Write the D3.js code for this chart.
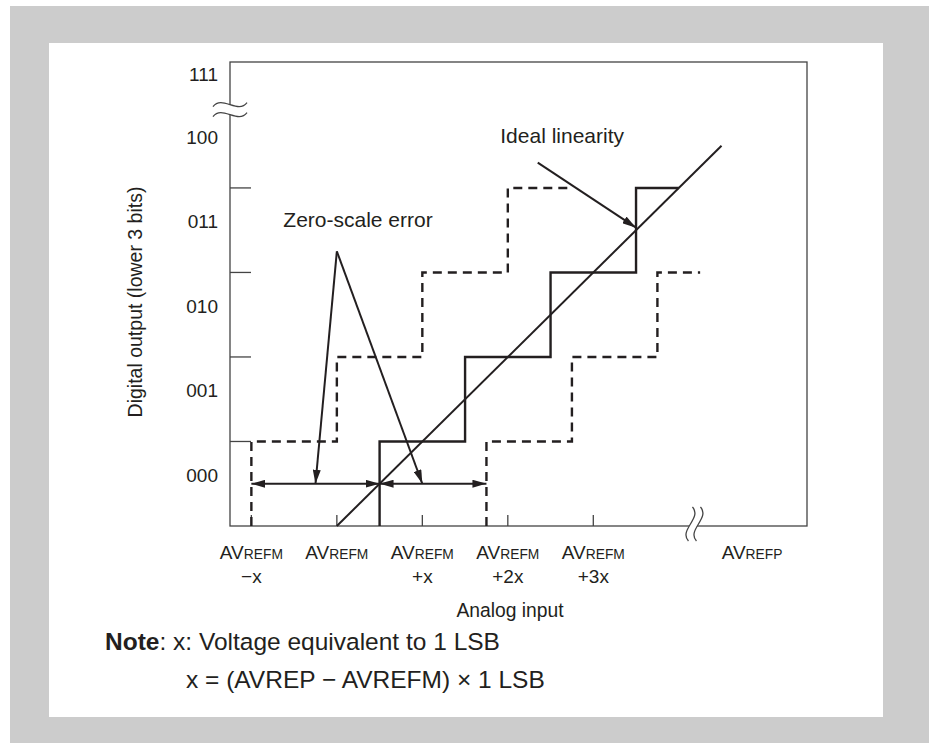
<!DOCTYPE html>
<meta charset="utf-8">
<script src="https://d3js.org/d3.v7.min.js"></script>
<style>
  body { margin: 0; background: #fff; }
  text { font-family: "Liberation Sans", Arial, Helvetica, sans-serif; fill: #231f20; }
</style>
<body>
<svg width="929" height="743"></svg>
<script>
  // ---- data (x in LSB from AVREFM, y in output code) ----
  var yTicks = [1, 2, 3, 4];
  var codeLabels = ['000', '001', '010', '011', '100'];
  var topCode = '111';
  var xTicks = [-1, 0, 1, 2, 3];
  var xSubLabels = ['\u2212x', '', '+x', '+2x', '+3x'];
  var idealStair = [[0.5,0],[0.5,1],[1.5,1],[1.5,2],[2.5,2],[2.5,3],[3.5,3],[3.5,4],[4,4]];
  var earlyStair = [[-1,0],[-1,1],[0,1],[0,2],[1,2],[1,3],[2,3],[2,4],[2.75,4]];
  var lateStair  = [[1.75,0],[1.75,1],[2.75,1],[2.75,2],[3.75,2],[3.75,3],[4.25,3]];
  var idealLine  = [[0,0],[4.5,4.5]];
  var errSpan    = [[-1,0.5],[0.5,0.5],[1.75,0.5]];   // zero-scale error arrows
  var zeroApex   = [0, 3.25], zeroTips = [[-0.25,0.5],[1,0.5]];
  var idealFrom  = [2.35, 4.3], idealTo = [3.5, 3.53];

  var svg = d3.select('svg');
  var ink = '#231f20';

  // backdrop
  svg.append('rect').attr('x', 10).attr('y', 6).attr('width', 919).attr('height', 737).attr('fill', '#cccccc');
  svg.append('rect').attr('x', 49).attr('y', 43).attr('width', 834).attr('height', 674).attr('fill', '#fff');

  var x = d3.scaleLinear().domain([-1.25, 5.5]).range([230, 807]);
  var y = d3.scaleLinear().domain([0, 5.49]).range([526, 62]);

  var defs = svg.append('defs');
  defs.append('marker').attr('id', 'head')
    .attr('viewBox', '0 0 14 8').attr('refX', 14).attr('refY', 4)
    .attr('markerWidth', 14).attr('markerHeight', 8)
    .attr('markerUnits', 'userSpaceOnUse').attr('orient', 'auto-start-reverse')
    .append('path').attr('d', 'M0,0L14,4L0,8Z').attr('fill', ink);

  var line = d3.line().x(function(d){ return x(d[0]); }).y(function(d){ return y(d[1]); });

  // frame
  svg.append('rect')
    .attr('x', x(-1.25)).attr('y', y(5.49))
    .attr('width', x(5.5) - x(-1.25)).attr('height', y(0) - y(5.49))
    .attr('fill', 'none').attr('stroke', '#444').attr('stroke-width', 1.3);

  // y ticks
  svg.selectAll('line.yt').data(yTicks).enter().append('line')
    .attr('x1', x(-1.25)).attr('x2', x(-1.25) + 21)
    .attr('y1', function(d){ return y(d); }).attr('y2', function(d){ return y(d); })
    .attr('stroke', '#444').attr('stroke-width', 1.3);

  // x ticks
  svg.selectAll('line.xt').data(xTicks).enter().append('line')
    .attr('x1', function(d){ return x(d); }).attr('x2', function(d){ return x(d); })
    .attr('y1', y(0)).attr('y2', y(0) - 11)
    .attr('stroke', '#444').attr('stroke-width', 1.3);

  // y labels
  svg.selectAll('text.code').data(codeLabels).enter().append('text')
    .attr('x', 218).attr('y', function(d, i){ return y(i + 0.5) - 2; })
    .attr('text-anchor', 'end').attr('font-size', 19)
    .text(function(d){ return d; });
  svg.append('text').attr('x', 218).attr('y', 81)
    .attr('text-anchor', 'end').attr('font-size', 19).text(topCode);

  // x labels
  var xl = svg.selectAll('g.xl').data(xTicks).enter().append('g')
    .attr('transform', function(d){ return 'translate(' + x(d) + ',0)'; });
  var main = xl.append('text').attr('y', 559).attr('text-anchor', 'middle').attr('font-size', 19);
  main.append('tspan').text('AV');
  main.append('tspan').attr('font-size', 13.8).text('REFM');
  xl.append('text').attr('y', 583).attr('text-anchor', 'middle').attr('font-size', 19)
    .text(function(d, i){ return xSubLabels[i]; });
  var pl = svg.append('text').attr('x', 752).attr('y', 559).attr('text-anchor', 'middle').attr('font-size', 19);
  pl.append('tspan').text('AV');
  pl.append('tspan').attr('font-size', 13.8).text('REFP');

  // axis titles
  svg.append('text').attr('x', 510).attr('y', 617).attr('text-anchor', 'middle')
    .attr('font-size', 19.3).text('Analog input');
  svg.append('text').attr('transform', 'translate(142,302) rotate(-90)')
    .attr('text-anchor', 'middle').attr('font-size', 19.5).text('Digital output (lower 3 bits)');

  // breaks
  var yb = y(4.95), ax = x(-1.25);
  var wave = function(dy){
    return 'M' + (ax - 17) + ',' + (yb + dy + 4) + ' C' + (ax - 8) + ',' + (yb + dy - 8) + ' ' + (ax + 8) + ',' + (yb + dy + 12) + ' ' + (ax + 17) + ',' + (yb + dy);
  };
  svg.append('path').attr('d', wave(-5) + ' L' + (ax + 17) + ',' + (yb + 5) + ' ' +
      'C' + (ax + 8) + ',' + (yb + 17) + ' ' + (ax - 8) + ',' + (yb - 3) + ' ' + (ax - 17) + ',' + (yb + 9) + 'Z')
    .attr('fill', '#fff').attr('stroke', 'none');
  svg.append('path').attr('d', wave(-5)).attr('fill', 'none').attr('stroke', '#444').attr('stroke-width', 1.3);
  svg.append('path').attr('d', wave(5)).attr('fill', 'none').attr('stroke', '#444').attr('stroke-width', 1.3);

  var bx = x(4.16), by = y(0);
  var vwave = function(dx){
    return 'M' + (bx + dx + 4) + ',' + (by - 19) + ' C' + (bx + dx + 14) + ',' + (by - 8) + ' ' + (bx + dx - 10) + ',' + (by + 4) + ' ' + (bx + dx) + ',' + (by + 15);
  };
  svg.append('path').attr('d', vwave(-4) + ' L' + (bx + 4) + ',' + (by + 15) + ' ' +
      'C' + (bx - 6) + ',' + (by + 4) + ' ' + (bx + 18) + ',' + (by - 8) + ' ' + (bx + 8) + ',' + (by - 19) + 'Z')
    .attr('fill', '#fff').attr('stroke', 'none');
  svg.append('path').attr('d', vwave(-4)).attr('fill', 'none').attr('stroke', '#444').attr('stroke-width', 1.3);
  svg.append('path').attr('d', vwave(4)).attr('fill', 'none').attr('stroke', '#444').attr('stroke-width', 1.3);

  // staircases
  svg.append('path').attr('d', line(earlyStair)).attr('fill', 'none')
    .attr('stroke', ink).attr('stroke-width', 2.4).attr('stroke-dasharray', '9,6');
  svg.append('path').attr('d', line(lateStair)).attr('fill', 'none')
    .attr('stroke', ink).attr('stroke-width', 2.4).attr('stroke-dasharray', '9,6');
  svg.append('path').attr('d', line(idealStair)).attr('fill', 'none')
    .attr('stroke', ink).attr('stroke-width', 2.4);
  svg.append('path').attr('d', line(idealLine)).attr('fill', 'none')
    .attr('stroke', ink).attr('stroke-width', 2);

  // zero-scale error spans
  svg.append('path').attr('d', line([errSpan[0], errSpan[1]])).attr('stroke', ink).attr('stroke-width', 2.2)
    .attr('marker-start', 'url(#head)').attr('marker-end', 'url(#head)');
  svg.append('path').attr('d', line([errSpan[1], errSpan[2]])).attr('stroke', ink).attr('stroke-width', 2.2)
    .attr('marker-start', 'url(#head)').attr('marker-end', 'url(#head)');

  // callouts
  zeroTips.forEach(function(t){
    svg.append('path').attr('d', line([zeroApex, t])).attr('stroke', ink).attr('stroke-width', 2)
      .attr('fill', 'none').attr('marker-end', 'url(#head)');
  });
  svg.append('path').attr('d', line([idealFrom, idealTo])).attr('stroke', ink).attr('stroke-width', 2)
    .attr('fill', 'none').attr('marker-end', 'url(#head)');

  svg.append('text').attr('x', 358).attr('y', 227).attr('text-anchor', 'middle').attr('font-size', 21).text('Zero-scale error');
  svg.append('text').attr('x', 624).attr('y', 143).attr('text-anchor', 'end').attr('font-size', 21).text('Ideal linearity');

  // note
  var n1 = svg.append('text').attr('x', 105).attr('y', 650).attr('font-size', 24.5);
  n1.append('tspan').attr('font-weight', 'bold').text('Note');
  n1.append('tspan').text(': x: Voltage equivalent to 1 LSB');
  svg.append('text').attr('x', 186).attr('y', 688).attr('font-size', 24.5)
    .text('x = (AVREP \u2212 AVREFM) \u00d7 1 LSB');
</script>
</body>
